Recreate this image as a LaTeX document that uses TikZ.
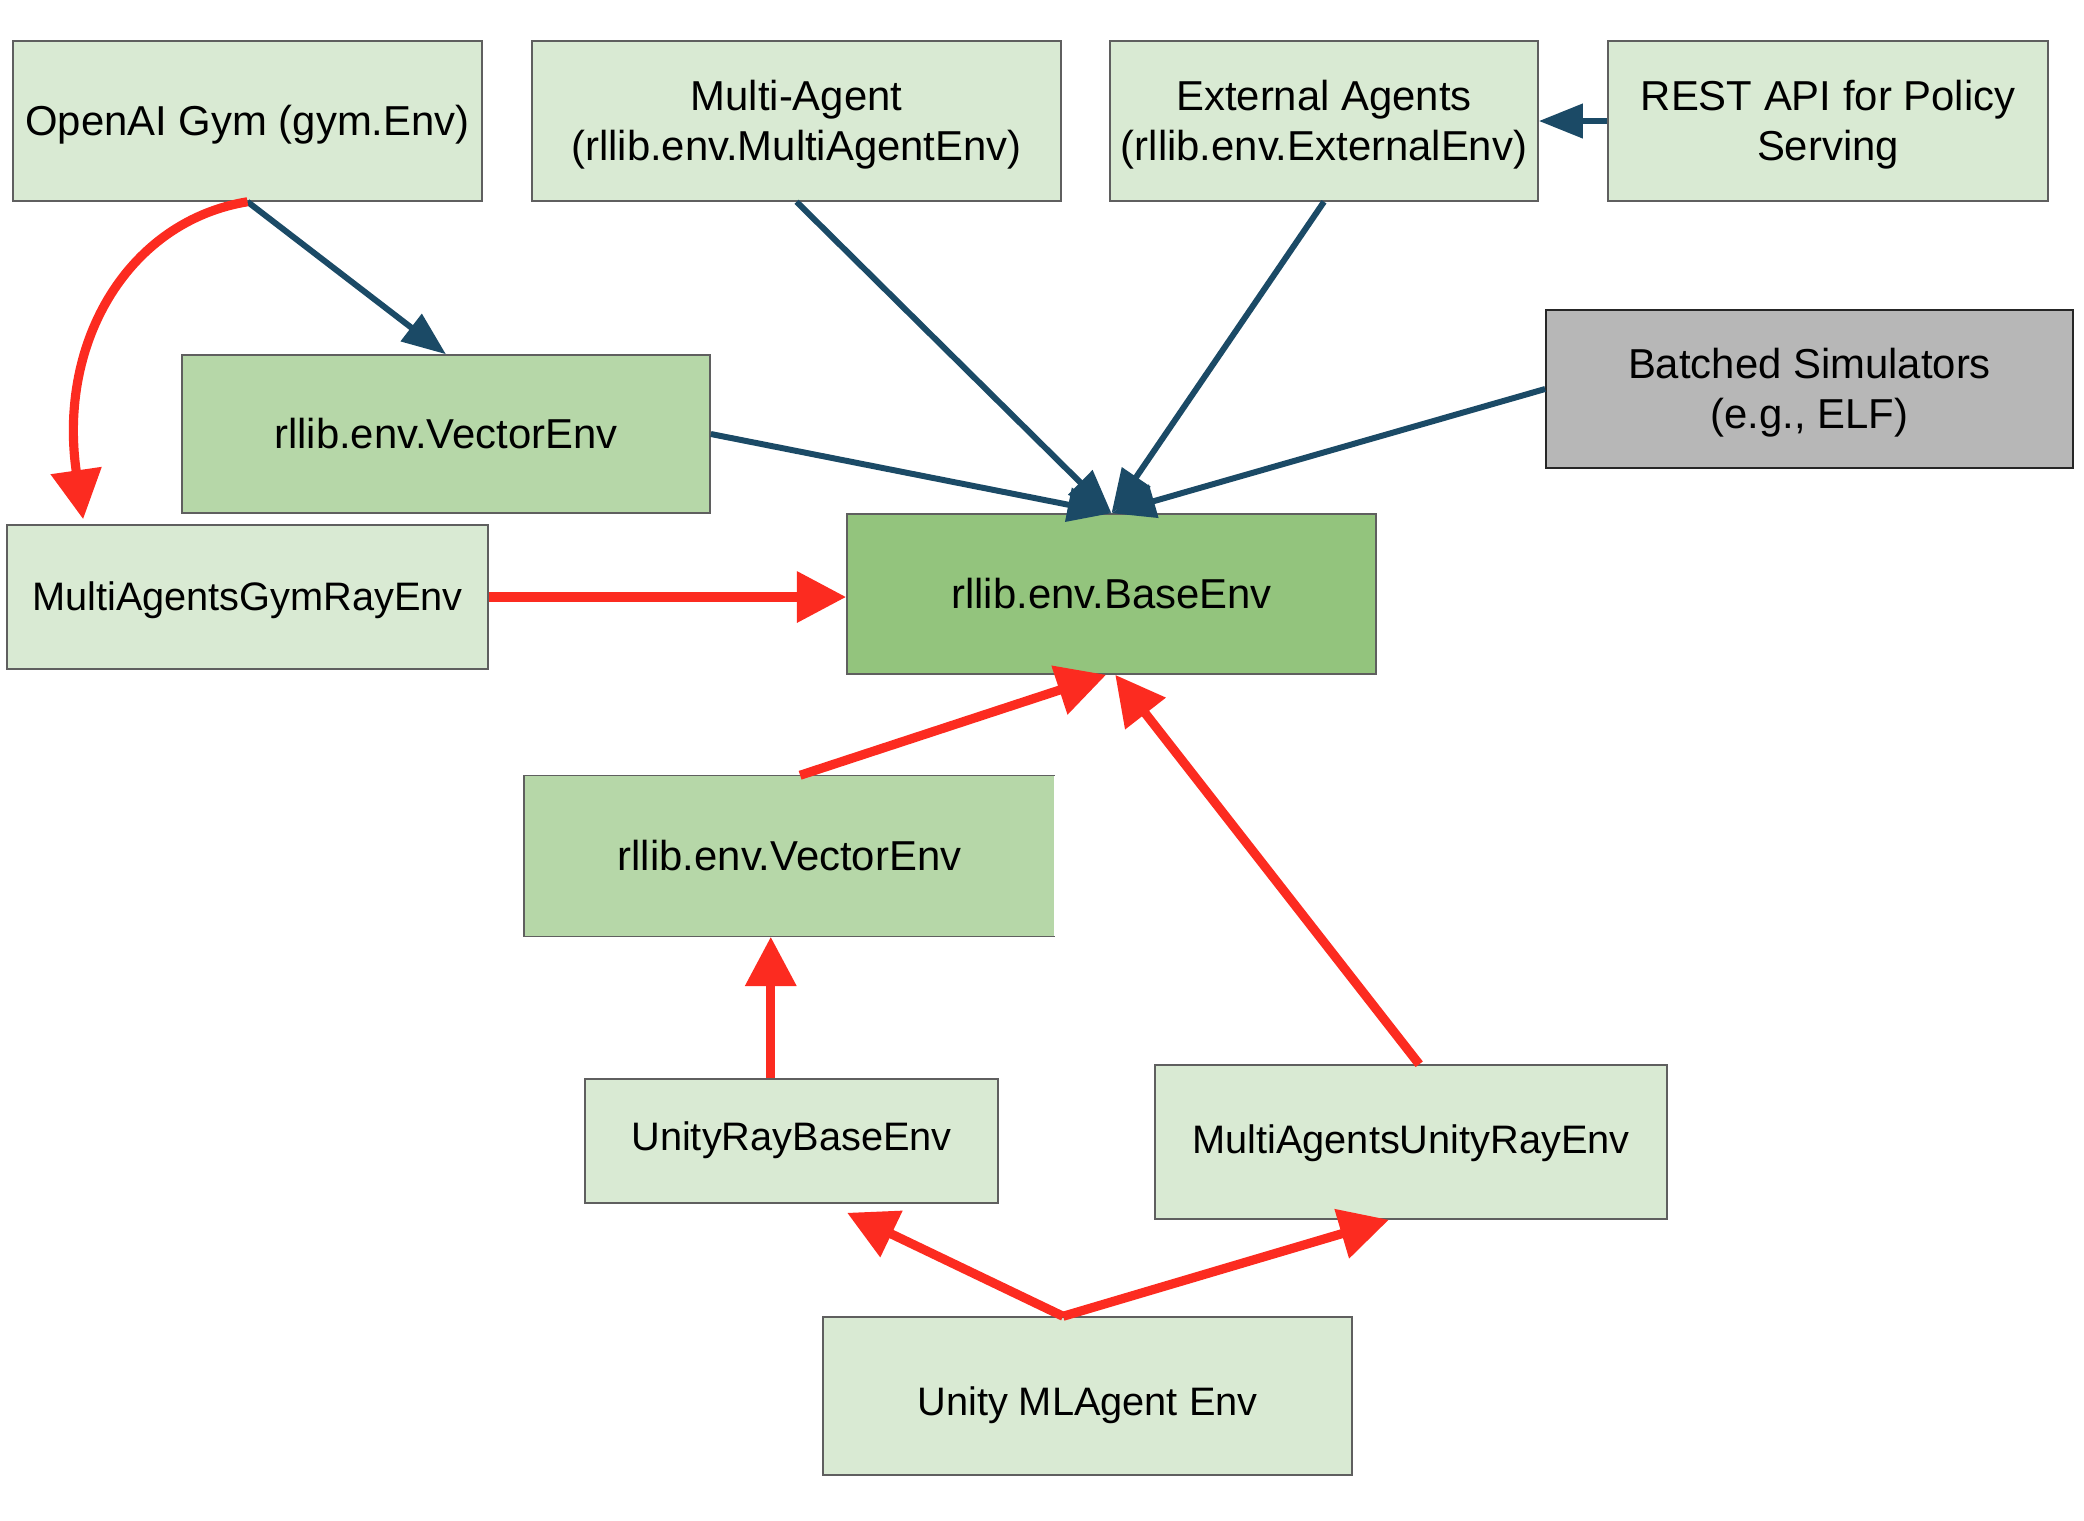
\documentclass[tikz,border=0pt]{standalone}
\usepackage{fontspec}
\setmainfont{Liberation Sans}
\usetikzlibrary{arrows.meta,calc}
\definecolor{lg}{HTML}{D9EAD3}
\definecolor{mg}{HTML}{B6D7A8}
\definecolor{dg}{HTML}{93C47D}
\definecolor{gr}{HTML}{B7B7B7}
\definecolor{navy}{HTML}{1B4A66}
\definecolor{redarrow}{HTML}{FC2B20}
\definecolor{edgecol}{HTML}{5F5F5F}
\newcommand{\twolines}[2]{\begin{tabular}[t]{@{}c@{}}#1\\#2\end{tabular}}
\begin{document}
\begin{tikzpicture}[x=0.01cm,y=-0.01cm,
 box/.style={draw=edgecol, line width=0.4pt, inner sep=0pt, text=black, font=\fontsize{11.9}{14.2}\selectfont, text depth=0pt},
 twobox/.style={box, text height=8.5pt, text depth=14.36pt},
 smalltext/.style={font=\fontsize{11.3}{14}\selectfont},
 navyarrow/.style={draw=navy, line width=1.7pt, -{Triangle[length=12.5pt,width=9.5pt]}},
 redarr/.style={draw=redarrow, line width=2.6pt, -{Triangle[length=14pt,width=14pt]}},
]
\useasboundingbox (0,0) rectangle (2084,1520);

\node[box, fill=lg, minimum width=4.69cm, minimum height=1.6cm, text height=8.36pt] (gym) at (247.5,121) {OpenAI Gym (gym.Env)};
\node[twobox, fill=lg, minimum width=5.29cm, minimum height=1.6cm] (ma) at (796.5,121) {\twolines{Multi-Agent}{(rllib.env.MultiAgentEnv)}};
\node[twobox, fill=lg, minimum width=4.28cm, minimum height=1.6cm] (ext) at (1324,121) {\twolines{External Agents}{(rllib.env.ExternalEnv)}};
\node[twobox, fill=lg, minimum width=4.40cm, minimum height=1.6cm] (rest) at (1828,121) {\twolines{REST API for Policy}{Serving}};
\node[box, fill=mg, minimum width=5.28cm, minimum height=1.58cm, text height=8.1pt] (vec1) at (446,434) {rllib.env.VectorEnv};
\node[twobox, fill=gr, draw=black!85, minimum width=5.27cm, minimum height=1.58cm] (batch) at (1809.5,389) {\twolines{Batched Simulators}{(e.g., ELF)}};
\node[box, smalltext, fill=lg, minimum width=4.81cm, minimum height=1.44cm, text height=7.4pt] (magym) at (247.5,597) {MultiAgentsGymRayEnv};
\node[box, fill=dg, minimum width=5.29cm, minimum height=1.6cm, text height=8.3pt] (base) at (1111.5,594) {rllib.env.BaseEnv};
\node[box, fill=mg, draw=none, minimum width=5.29cm, minimum height=1.6cm, text height=8.3pt] (vec2) at (789.5,856) {rllib.env.VectorEnv};
\draw[edgecol, line width=0.4pt] (vec2.north east) -- (vec2.north west) -- (vec2.south west) -- (vec2.south east);
\node[box, smalltext, fill=lg, minimum width=4.13cm, minimum height=1.24cm, text height=5.5pt] (urb) at (791.5,1141) {UnityRayBaseEnv};
\node[box, smalltext, fill=lg, minimum width=5.12cm, minimum height=1.54cm, text height=6.26pt] (mau) at (1411,1142) {MultiAgentsUnityRayEnv};
\node[box, smalltext, fill=lg, minimum width=5.29cm, minimum height=1.58cm, text height=10.8pt] (unity) at (1087.5,1396) {Unity MLAgent Env};

% dark blue connectors
\draw[navyarrow] (gym.south) -- (vec1.north);
\draw[navyarrow] (vec1.east) -- (base.north);
\draw[navyarrow] (ma.south) -- (base.north);
\draw[navyarrow] (ext.south) -- (base.north);
\draw[navyarrow] (batch.west) -- (base.north);
\draw[navyarrow] (rest.west) -- (ext.east);

% red connectors
\coordinate (gtip) at ($(magym.north west)+(77,-5)$);
\draw[redarr] (gym.south) .. controls +(-117,19) and +(-26,-180) .. (gtip);
\draw[redarr] (magym.east) -- (magym.east -| base.west);
\draw[redarr] ($(vec2.north west)!0.52!(vec2.north east)$) -- ($(base.south west)!0.49!(base.south east)$);
\draw[redarr] ($(mau.north west)!0.516!(mau.north east)$) -- ($(base.south west)!0.507!(base.south east)$);
\coordinate (u1) at ($(urb.north west)!0.45!(urb.north east)$);
\draw[redarr] (u1) -- (u1 |- vec2.south);
\coordinate (u0) at ($(unity.north west)!0.454!(unity.north east)$);
\draw[redarr] (u0) -- ($(urb.south west)!0.634!(urb.south east)+(0,9)$);
\draw[redarr] (u0) -- ($(mau.south west)!0.457!(mau.south east)$);
\end{tikzpicture}
\end{document}
